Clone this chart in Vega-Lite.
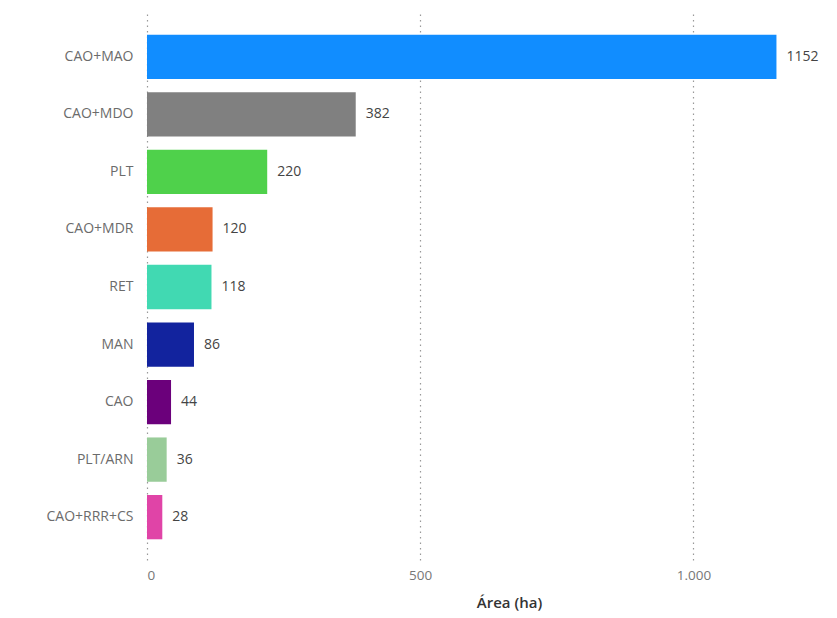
{
  "$schema": "https://vega.github.io/schema/vega-lite/v6.json",
  "autosize": "none",
  "width": 683,
  "height": 546,
  "padding": {"left": 147, "top": 14, "right": 7, "bottom": 58},
  "background": "white",
  "config": {"font": "Open Sans", "view": {"stroke": null}},
  "data": {
    "values": [
      {"categoria": "CAO+MAO", "area": 1152},
      {"categoria": "CAO+MDO", "area": 382},
      {"categoria": "PLT", "area": 220},
      {"categoria": "CAO+MDR", "area": 120},
      {"categoria": "RET", "area": 118},
      {"categoria": "MAN", "area": 86},
      {"categoria": "CAO", "area": 44},
      {"categoria": "PLT/ARN", "area": 36},
      {"categoria": "CAO+RRR+CS", "area": 28}
    ]
  },
  "encoding": {
    "y": {
      "field": "categoria",
      "type": "nominal",
      "sort": {"field": "area", "order": "descending"},
      "scale": {"paddingInner": 0.23, "paddingOuter": 0.36},
      "axis": {
        "title": null,
        "domain": false,
        "ticks": false,
        "labelPadding": 14,
        "labelFontSize": 14,
        "labelColor": "#6b6b6b",
        "labelFont": "Open Sans"
      }
    },
    "x": {
      "field": "area",
      "type": "quantitative",
      "scale": {"domain": [0, 1250], "nice": false},
      "axis": {
        "title": "Área (ha)",
        "values": [0, 500, 1000],
        "labelExpr": "replace(format(datum.value, ','), ',', '.')",
        "domain": false,
        "ticks": false,
        "grid": true,
        "gridDash": [1.5, 4],
        "gridColor": "#999999",
        "gridWidth": 1.2,
        "labelColor": "#777777",
        "labelFontSize": 13.5,
        "labelPadding": 8,
        "titleFontSize": 15,
        "titleFontWeight": 600,
        "titleColor": "#333333",
        "titleX": 362,
        "titlePadding": 14
      }
    }
  },
  "layer": [
    {
      "mark": {"type": "bar"},
      "encoding": {
        "color": {
          "field": "categoria",
          "type": "nominal",
          "legend": null,
          "scale": {
            "domain": ["CAO+MAO", "CAO+MDO", "PLT", "CAO+MDR", "RET", "MAN", "CAO", "PLT/ARN", "CAO+RRR+CS"],
            "range": ["#118DFF", "#808080", "#4FD14B", "#E66C37", "#41D9B2", "#12239E", "#6B007B", "#99CC99", "#E044A7"]
          }
        }
      }
    },
    {
      "mark": {"type": "text", "align": "left", "baseline": "middle", "dx": 10, "fontSize": 14, "color": "#444444", "font": "Open Sans"},
      "encoding": {
        "text": {"field": "area", "type": "quantitative", "format": "d"}
      }
    }
  ]
}
